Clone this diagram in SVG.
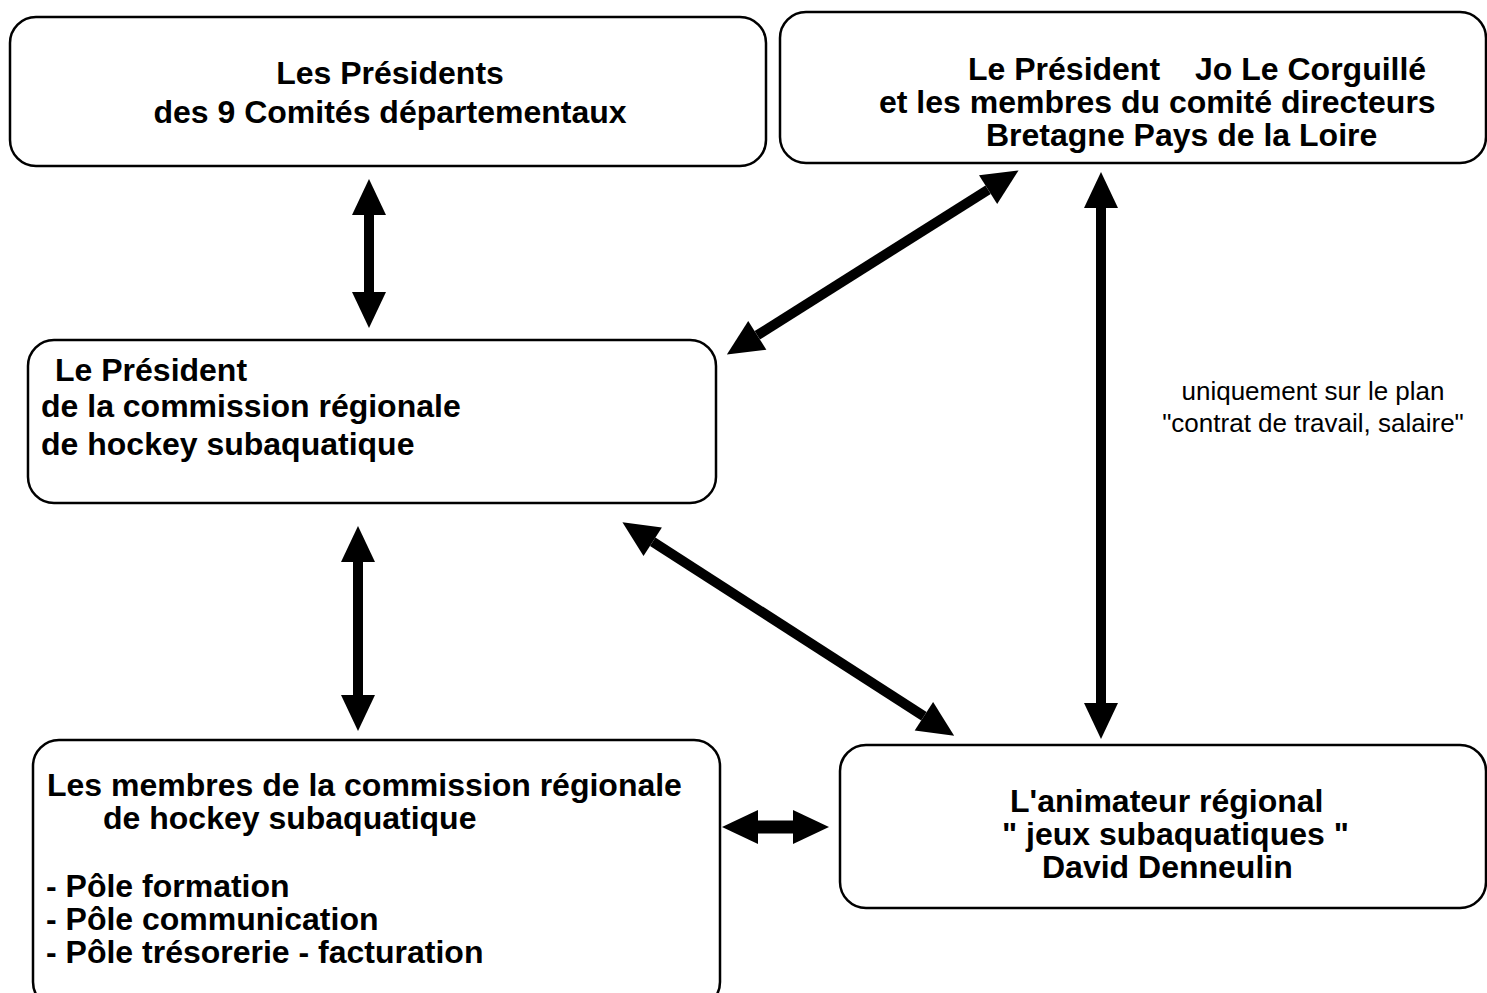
<svg xmlns="http://www.w3.org/2000/svg" width="1487" height="993" viewBox="0 0 1487 993">
<style>
.box{fill:#fff;stroke:#000;stroke-width:2.5}
.t{font-family:"Liberation Sans",Arial,sans-serif;font-weight:bold;font-size:32px;fill:#000}
.s{font-family:"Liberation Sans",Arial,sans-serif;font-size:26px;fill:#000}
.c{text-anchor:middle}
.arr{stroke:#000;stroke-width:10;fill:none;marker-start:url(#head);marker-end:url(#head)}
</style>
<defs>
<marker id="head" markerUnits="userSpaceOnUse" markerWidth="36" markerHeight="34" refX="0" refY="17" orient="auto-start-reverse" overflow="visible">
<path d="M0,0 L36,17 L0,34 z" fill="#000"/>
</marker>
</defs>
<rect width="1487" height="993" fill="#fff"/>
<g id="n1">
<rect class="box" x="10" y="17" width="756" height="149" rx="26"/>
<text class="t c" x="390" y="84">Les Présidents</text>
<text class="t c" x="390" y="123">des 9 Comités départementaux</text>
</g>
<g id="n2">
<rect class="box" x="780" y="12" width="706" height="151" rx="26"/>
<text class="t" y="80"><tspan x="968">Le Président</tspan><tspan x="1195">Jo Le Corguillé</tspan></text>
<text class="t" x="879" y="113">et les membres du comité directeurs</text>
<text class="t" x="986" y="146">Bretagne Pays de la Loire</text>
</g>
<g id="n3">
<rect class="box" x="28" y="340" width="688" height="163" rx="26"/>
<text class="t" x="55" y="381">Le Président</text>
<text class="t" x="41" y="417">de la commission régionale</text>
<text class="t" x="41" y="455">de hockey subaquatique</text>
</g>
<g id="n4">
<rect class="box" x="33" y="740" width="687" height="268" rx="26"/>
<text class="t" x="47" y="796">Les membres de la commission régionale</text>
<text class="t" x="103" y="829">de hockey subaquatique</text>
<text class="t" x="46" y="897">- Pôle formation</text>
<text class="t" x="46" y="930">- Pôle communication</text>
<text class="t" x="46" y="963">- Pôle trésorerie - facturation</text>
</g>
<g id="n5">
<rect class="box" x="840" y="745" width="646" height="163" rx="26"/>
<text class="t" x="1010" y="812">L'animateur régional</text>
<text class="t" x="1002" y="845">" jeux subaquatiques "</text>
<text class="t" x="1042" y="878">David Denneulin</text>
</g>
<g id="label">
<text class="s c" x="1313" y="400">uniquement sur le plan</text>
<text class="s c" x="1313" y="432">"contrat de travail, salaire"</text>
</g>
<g id="connectors">
<line class="arr" x1="369" y1="215" x2="369" y2="292"/>
<line class="arr" x1="988.1" y1="189.7" x2="757.3" y2="335.3"/>
<line class="arr" x1="1101" y1="208" x2="1101" y2="703"/>
<line class="arr" x1="652.7" y1="541.7" x2="923.9" y2="716.3"/>
<line class="arr" x1="358" y1="562" x2="358" y2="695"/>
<line class="arr" x1="758" y1="827" x2="793" y2="827" style="stroke-width:13"/>
</g>
</svg>
